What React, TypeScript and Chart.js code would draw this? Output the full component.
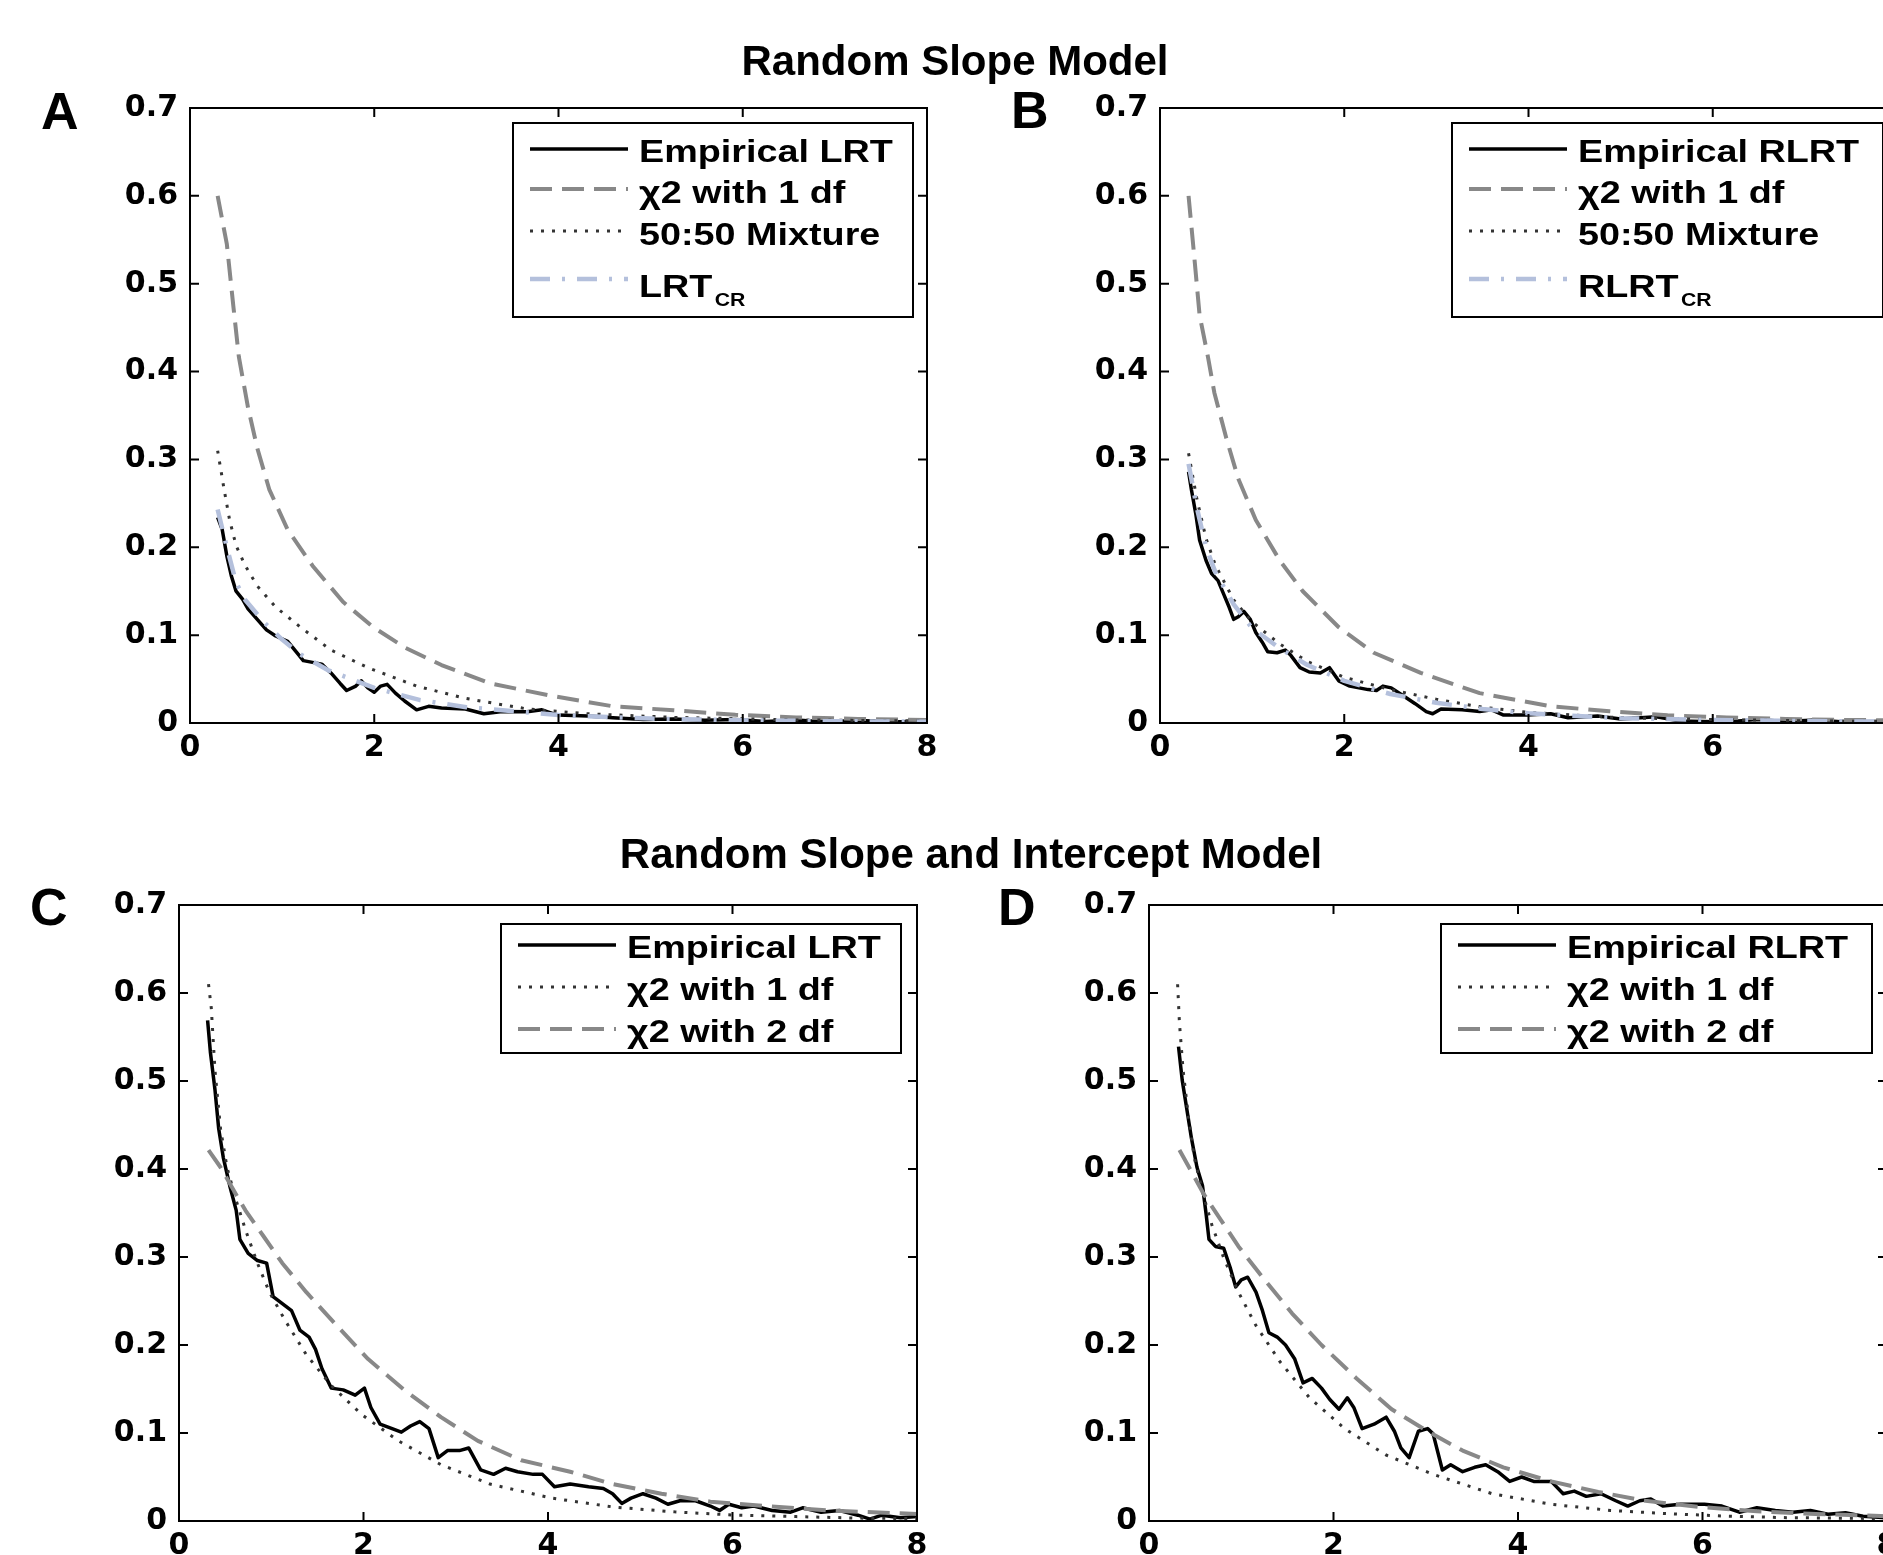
import React, { useEffect, useRef } from 'react';
import { Chart, registerables } from 'chart.js';

Chart.register(...registerables);

// ---------- axes ----------
const xTickValues = [0, 2, 4, 6, 8];
const xTickLabels = ['0', '2', '4', '6', '8'];
const yTickValues = [0, 0.1, 0.2, 0.3, 0.4, 0.5, 0.6, 0.7];
const yTickLabels = ['0', '0.1', '0.2', '0.3', '0.4', '0.5', '0.6', '0.7'];

// ---------- Panel A : Random slope, LRT ----------
const aEmpX = [0.30, 0.35, 0.40, 0.45, 0.50, 0.57, 0.63, 0.73, 0.83, 0.93, 1.06, 1.16, 1.23, 1.33, 1.43, 1.53, 1.63, 1.70, 1.80, 1.86, 1.93, 2.00, 2.07, 2.14, 2.23, 2.33, 2.46, 2.59, 2.73, 2.99, 3.19, 3.39, 3.66, 3.82, 3.99, 4.32, 4.59, 4.92, 5.25, 5.59, 5.92, 6.25, 6.58, 6.91, 7.25, 7.58, 8.00];
const aEmpY = [0.234, 0.220, 0.190, 0.167, 0.150, 0.141, 0.130, 0.118, 0.106, 0.099, 0.093, 0.080, 0.071, 0.069, 0.067, 0.057, 0.045, 0.037, 0.042, 0.048, 0.040, 0.035, 0.042, 0.044, 0.034, 0.025, 0.015, 0.019, 0.017, 0.016, 0.0105, 0.013, 0.0128, 0.015, 0.009, 0.008, 0.006, 0.004, 0.0046, 0.003, 0.004, 0.0017, 0.0035, 0.0012, 0.003, 0.0012, 0.002];
const aChi1X = [0.30, 0.40, 0.47, 0.53, 0.63, 0.73, 0.86, 1.06, 1.33, 1.66, 1.99, 2.33, 2.73, 3.26, 3.92, 4.59, 5.25, 5.92, 6.58, 7.25, 8.00];
const aChi1Y = [0.600, 0.545, 0.475, 0.417, 0.359, 0.313, 0.266, 0.220, 0.179, 0.138, 0.109, 0.086, 0.066, 0.045, 0.031, 0.019, 0.0145, 0.0093, 0.0064, 0.0046, 0.0035];
const aMixX = [0.30, 0.37, 0.43, 0.50, 0.60, 0.73, 0.93, 1.20, 1.53, 1.93, 2.46, 2.99, 3.66, 4.32, 5.25, 6.58, 8.00];
const aMixY = [0.310, 0.266, 0.231, 0.202, 0.179, 0.156, 0.132, 0.109, 0.083, 0.063, 0.042, 0.028, 0.016, 0.0105, 0.0064, 0.0035, 0.0023];
const aCrX = [0.30, 0.40, 0.50, 0.60, 0.80, 1.00, 1.20, 1.50, 2.00, 2.50, 3.00, 4.00, 5.00, 6.00, 7.00, 8.00];
const aCrY = [0.243, 0.200, 0.160, 0.140, 0.115, 0.095, 0.078, 0.060, 0.040, 0.026, 0.018, 0.009, 0.005, 0.003, 0.002, 0.0015];

// ---------- Panel B : Random slope, RLRT ----------
const bEmpX = [0.31, 0.34, 0.39, 0.43, 0.50, 0.56, 0.63, 0.69, 0.75, 0.80, 0.85, 0.91, 0.98, 1.04, 1.11, 1.17, 1.27, 1.36, 1.42, 1.52, 1.62, 1.74, 1.84, 1.94, 2.06, 2.26, 2.35, 2.42, 2.51, 2.64, 2.77, 2.89, 2.96, 3.05, 3.28, 3.47, 3.60, 3.73, 3.98, 4.24, 4.43, 4.75, 5.00, 5.39, 5.64, 6.15, 6.47, 6.79, 7.11, 7.43, 8.00];
const bEmpY = [0.286, 0.266, 0.237, 0.208, 0.185, 0.170, 0.162, 0.147, 0.132, 0.118, 0.121, 0.127, 0.118, 0.103, 0.092, 0.081, 0.080, 0.083, 0.077, 0.063, 0.058, 0.057, 0.063, 0.048, 0.042, 0.038, 0.037, 0.042, 0.040, 0.031, 0.022, 0.013, 0.0105, 0.016, 0.015, 0.013, 0.015, 0.009, 0.009, 0.0105, 0.006, 0.008, 0.0046, 0.007, 0.0023, 0.0012, 0.004, 0.0017, 0.0035, 0.0012, 0.002];
const bChi1X = [0.31, 0.37, 0.43, 0.52, 0.59, 0.72, 0.85, 1.04, 1.30, 1.55, 1.94, 2.32, 2.83, 3.47, 4.24, 4.88, 5.51, 6.15, 6.79, 7.43, 8.00];
const bChi1Y = [0.600, 0.533, 0.464, 0.417, 0.376, 0.324, 0.278, 0.231, 0.185, 0.150, 0.109, 0.080, 0.057, 0.034, 0.019, 0.0134, 0.0087, 0.0064, 0.0046, 0.0035, 0.003];
const bMixX = [0.31, 0.40, 0.50, 0.60, 0.80, 1.00, 1.30, 1.60, 2.00, 2.50, 3.00, 3.50, 4.00, 5.00, 6.00, 7.00, 8.00];
const bMixY = [0.307, 0.255, 0.210, 0.180, 0.140, 0.115, 0.090, 0.070, 0.052, 0.038, 0.027, 0.018, 0.012, 0.006, 0.004, 0.0025, 0.0017];
const bCrX = [0.31, 0.40, 0.50, 0.60, 0.80, 1.00, 1.30, 1.60, 2.00, 2.50, 3.00, 3.50, 4.00, 5.00, 6.00, 7.00, 8.00];
const bCrY = [0.295, 0.245, 0.200, 0.172, 0.135, 0.108, 0.085, 0.066, 0.048, 0.033, 0.023, 0.016, 0.011, 0.0055, 0.0035, 0.0022, 0.0015];

// ---------- Panel C : Random slope and intercept, LRT ----------
const cEmpX = [0.31, 0.34, 0.39, 0.43, 0.48, 0.55, 0.62, 0.66, 0.75, 0.85, 0.95, 1.02, 1.12, 1.22, 1.31, 1.41, 1.48, 1.55, 1.65, 1.78, 1.91, 2.01, 2.08, 2.18, 2.31, 2.41, 2.51, 2.61, 2.71, 2.81, 2.91, 3.04, 3.14, 3.27, 3.41, 3.54, 3.67, 3.84, 3.94, 4.07, 4.24, 4.44, 4.60, 4.70, 4.80, 4.90, 5.03, 5.17, 5.30, 5.43, 5.60, 5.76, 5.86, 5.96, 6.10, 6.23, 6.43, 6.63, 6.76, 6.96, 7.16, 7.36, 7.49, 7.62, 7.82, 8.00];
const cEmpY = [0.569, 0.533, 0.490, 0.446, 0.413, 0.381, 0.353, 0.320, 0.304, 0.296, 0.293, 0.255, 0.247, 0.239, 0.217, 0.209, 0.195, 0.173, 0.151, 0.149, 0.143, 0.151, 0.129, 0.110, 0.105, 0.101, 0.108, 0.113, 0.105, 0.072, 0.080, 0.080, 0.083, 0.058, 0.053, 0.060, 0.056, 0.053, 0.053, 0.039, 0.042, 0.039, 0.037, 0.031, 0.020, 0.026, 0.031, 0.026, 0.019, 0.023, 0.023, 0.017, 0.012, 0.019, 0.015, 0.017, 0.012, 0.010, 0.015, 0.010, 0.012, 0.0066, 0.0022, 0.0066, 0.0038, 0.005];
const cChi1X = [0.32, 0.35, 0.39, 0.45, 0.52, 0.62, 0.72, 0.85, 0.98, 1.15, 1.38, 1.65, 1.98, 2.38, 2.84, 3.37, 4.04, 4.70, 5.37, 6.03, 6.69, 7.36, 8.00];
const cChi1Y = [0.610, 0.583, 0.512, 0.446, 0.402, 0.364, 0.331, 0.293, 0.260, 0.228, 0.189, 0.154, 0.121, 0.091, 0.064, 0.042, 0.026, 0.016, 0.0104, 0.0066, 0.005, 0.0033, 0.0027];
const cChi2X = [0.32, 0.45, 0.58, 0.72, 0.92, 1.12, 1.38, 1.71, 2.05, 2.44, 2.84, 3.24, 3.71, 4.24, 4.70, 5.23, 5.76, 6.36, 7.03, 8.00];
const cChi2Y = [0.4215, 0.402, 0.378, 0.353, 0.323, 0.293, 0.260, 0.222, 0.184, 0.149, 0.118, 0.091, 0.069, 0.056, 0.042, 0.031, 0.022, 0.017, 0.012, 0.008];

// ---------- Panel D : Random slope and intercept, RLRT ----------
const dEmpX = [0.32, 0.36, 0.41, 0.46, 0.52, 0.58, 0.62, 0.65, 0.72, 0.81, 0.88, 0.94, 1.00, 1.07, 1.16, 1.23, 1.30, 1.39, 1.48, 1.58, 1.67, 1.77, 1.87, 1.96, 2.06, 2.15, 2.22, 2.31, 2.44, 2.57, 2.66, 2.73, 2.82, 2.92, 3.02, 3.08, 3.18, 3.27, 3.40, 3.53, 3.65, 3.78, 3.91, 4.04, 4.17, 4.36, 4.49, 4.61, 4.74, 4.90, 5.06, 5.19, 5.32, 5.44, 5.57, 5.76, 6.02, 6.21, 6.40, 6.59, 6.79, 6.98, 7.17, 7.36, 7.55, 7.74, 7.99];
const dEmpY = [0.539, 0.501, 0.468, 0.435, 0.402, 0.381, 0.348, 0.320, 0.312, 0.310, 0.288, 0.266, 0.274, 0.277, 0.260, 0.239, 0.214, 0.209, 0.200, 0.184, 0.157, 0.162, 0.151, 0.138, 0.127, 0.140, 0.129, 0.105, 0.110, 0.118, 0.102, 0.083, 0.072, 0.102, 0.105, 0.099, 0.058, 0.064, 0.056, 0.061, 0.064, 0.056, 0.045, 0.050, 0.045, 0.045, 0.031, 0.034, 0.028, 0.031, 0.023, 0.017, 0.023, 0.025, 0.017, 0.019, 0.019, 0.017, 0.010, 0.015, 0.012, 0.010, 0.012, 0.0077, 0.0093, 0.0055, 0.0038];
const dChi1X = [0.31, 0.33, 0.37, 0.43, 0.49, 0.59, 0.68, 0.81, 0.97, 1.16, 1.42, 1.74, 2.12, 2.57, 3.08, 3.72, 4.36, 5.00, 5.64, 6.27, 6.91, 8.00];
const dChi1Y = [0.610, 0.566, 0.512, 0.457, 0.413, 0.370, 0.337, 0.299, 0.260, 0.222, 0.181, 0.140, 0.105, 0.075, 0.053, 0.031, 0.019, 0.012, 0.0082, 0.0055, 0.0038, 0.0027];
const dChi2X = [0.33, 0.46, 0.59, 0.78, 0.97, 1.23, 1.55, 1.87, 2.25, 2.63, 3.02, 3.40, 3.84, 4.36, 4.87, 5.38, 5.96, 6.59, 7.23, 8.00];
const dChi2Y = [0.4215, 0.397, 0.372, 0.342, 0.312, 0.277, 0.236, 0.200, 0.162, 0.127, 0.102, 0.080, 0.061, 0.045, 0.033, 0.023, 0.016, 0.011, 0.008, 0.0055];

// ---------- text ----------
const titleTop = 'Random Slope Model';
const titleBottom = 'Random Slope and Intercept Model';

// ---------- styles ----------
type StyleKey = 'solid' | 'dashed' | 'dotted' | 'dashdot';
const STYLES: Record<StyleKey, { color: string; width: number; dash: number[]; cap: CanvasLineCap }> = {
  solid: { color: '#000000', width: 3.5, dash: [], cap: 'butt' },
  dashed: { color: '#888888', width: 4, dash: [22, 10], cap: 'butt' },
  dotted: { color: '#333333', width: 3, dash: [3, 8], cap: 'butt' },
  dashdot: { color: '#b4c0dc', width: 4.5, dash: [20, 12, 3, 12], cap: 'butt' },
};

type SeriesDef = { label: string; sub?: string; xs: number[]; ys: number[]; style: StyleKey };
type PanelDef = {
  key: string;
  plotLeft: number; plotTop: number; plotW: number; plotH: number;
  series: SeriesDef[];
  legend: { left: number; top: number; width: number; height: number; lineX0: number; lineX1: number; textX: number; lineY: number[]; baseY: number[] };
};

const Y_AXIS_W = 90;
const X_AXIS_H = 60;
const PAD_T = 30;
const PAD_R = 30;

const TICK_FONT = { family: "'DejaVu Sans', sans-serif", size: 30, weight: 'bold' as const, lineHeight: 1 };
const LEGEND_FONT = "bold 32px 'Liberation Sans', Arial, sans-serif";
const SUB_FONT = "bold 18px 'Liberation Sans', Arial, sans-serif";
const TEXT_STRETCH = 1.18;

const legend4 = (width: number) => ({
  left: 0, top: 15, width, height: 194,
  lineX0: 17, lineX1: 115, textX: 126,
  lineY: [41, 81, 123, 171], baseY: [54, 95, 137, 189],
});
const legend3 = (width: number) => ({
  left: 0, top: 19, width, height: 129,
  lineX0: 17, lineX1: 115, textX: 126,
  lineY: [40, 82, 124], baseY: [53, 95, 137],
});

const PANELS: PanelDef[] = [
  {
    key: 'A', plotLeft: 190, plotTop: 108, plotW: 737, plotH: 615,
    series: [
      { label: 'Empirical LRT', xs: aEmpX, ys: aEmpY, style: 'solid' },
      { label: 'χ2 with 1 df', xs: aChi1X, ys: aChi1Y, style: 'dashed' },
      { label: '50:50 Mixture', xs: aMixX, ys: aMixY, style: 'dotted' },
      { label: 'LRT', sub: 'CR', xs: aCrX, ys: aCrY, style: 'dashdot' },
    ],
    legend: { ...legend4(400), left: 323 },
  },
  {
    key: 'B', plotLeft: 1160, plotTop: 108, plotW: 737, plotH: 615,
    series: [
      { label: 'Empirical RLRT', xs: bEmpX, ys: bEmpY, style: 'solid' },
      { label: 'χ2 with 1 df', xs: bChi1X, ys: bChi1Y, style: 'dashed' },
      { label: '50:50 Mixture', xs: bMixX, ys: bMixY, style: 'dotted' },
      { label: 'RLRT', sub: 'CR', xs: bCrX, ys: bCrY, style: 'dashdot' },
    ],
    legend: { ...legend4(431), left: 292 },
  },
  {
    key: 'C', plotLeft: 179, plotTop: 905, plotW: 738, plotH: 616,
    series: [
      { label: 'Empirical LRT', xs: cEmpX, ys: cEmpY, style: 'solid' },
      { label: 'χ2 with 1 df', xs: cChi1X, ys: cChi1Y, style: 'dotted' },
      { label: 'χ2 with 2 df', xs: cChi2X, ys: cChi2Y, style: 'dashed' },
    ],
    legend: { ...legend3(400), left: 322 },
  },
  {
    key: 'D', plotLeft: 1149, plotTop: 905, plotW: 738, plotH: 616,
    series: [
      { label: 'Empirical RLRT', xs: dEmpX, ys: dEmpY, style: 'solid' },
      { label: 'χ2 with 1 df', xs: dChi1X, ys: dChi1Y, style: 'dotted' },
      { label: 'χ2 with 2 df', xs: dChi2X, ys: dChi2Y, style: 'dashed' },
    ],
    legend: { ...legend3(431), left: 292 },
  },
];

function makeFramePlugin(p: PanelDef) {
  return {
    id: 'frame' + p.key,
    afterDatasetsDraw(chart: any) {
      const { ctx, chartArea: a, scales } = chart;
      ctx.save();
      ctx.setLineDash([]);
      ctx.strokeStyle = '#000';
      ctx.lineWidth = 2;
      ctx.strokeRect(a.left, a.top, a.right - a.left, a.bottom - a.top);
      const tl = 9;
      ctx.beginPath();
      for (const v of xTickValues) {
        const px = scales.x.getPixelForValue(v);
        ctx.moveTo(px, a.bottom); ctx.lineTo(px, a.bottom - tl);
        ctx.moveTo(px, a.top); ctx.lineTo(px, a.top + tl);
      }
      for (const v of yTickValues) {
        const py = scales.y.getPixelForValue(v);
        ctx.moveTo(a.left, py); ctx.lineTo(a.left + tl, py);
        ctx.moveTo(a.right, py); ctx.lineTo(a.right - tl, py);
      }
      ctx.stroke();

      // legend box
      const L = p.legend;
      const bx = a.left + L.left;
      const by = a.top + L.top;
      ctx.fillStyle = '#fff';
      ctx.fillRect(bx, by, L.width, L.height);
      ctx.strokeStyle = '#000';
      ctx.lineWidth = 2;
      ctx.strokeRect(bx, by, L.width, L.height);
      p.series.forEach((s, i) => {
        const st = STYLES[s.style];
        const ly = a.top + L.lineY[i];
        ctx.beginPath();
        ctx.setLineDash(st.dash);
        ctx.lineCap = st.cap;
        ctx.strokeStyle = st.color;
        ctx.lineWidth = st.width;
        ctx.moveTo(bx + L.lineX0, ly);
        ctx.lineTo(bx + L.lineX1, ly);
        ctx.stroke();
        ctx.setLineDash([]);
        ctx.fillStyle = '#000';
        ctx.textAlign = 'left';
        ctx.textBaseline = 'alphabetic';
        const tx = bx + L.textX;
        const ty = a.top + L.baseY[i];
        ctx.save();
        ctx.translate(tx, ty);
        ctx.scale(TEXT_STRETCH, 1);
        ctx.font = LEGEND_FONT;
        ctx.fillText(s.label, 0, 0);
        const w = ctx.measureText(s.label).width;
        if (s.sub) {
          ctx.font = SUB_FONT;
          ctx.fillText(s.sub, w + 2, 9);
        }
        ctx.restore();
      });
      ctx.restore();
    },
  };
}

function Panel({ p }: { p: PanelDef }) {
  const ref = useRef<HTMLCanvasElement>(null);
  const width = p.plotW + Y_AXIS_W + PAD_R;
  const height = p.plotH + PAD_T + X_AXIS_H;
  useEffect(() => {
    const canvas = ref.current;
    if (!canvas) return;
    const n = p.series.length;
    const chart = new Chart(canvas, {
      type: 'line',
      data: {
        datasets: p.series.map((s, i) => {
          const st = STYLES[s.style];
          return {
            label: s.label,
            data: s.xs.map((x, j) => ({ x, y: s.ys[j] })),
            borderColor: st.color,
            borderWidth: st.width,
            borderDash: st.dash,
            borderCapStyle: st.cap,
            borderJoinStyle: 'round',
            pointRadius: 0,
            fill: false,
            tension: 0,
            order: n - i,
          };
        }),
      },
      options: {
        responsive: false,
        animation: false,
        devicePixelRatio: 1,
        events: [],
        layout: { padding: { top: PAD_T, right: PAD_R, left: 0, bottom: 0 } },
        plugins: { legend: { display: false }, tooltip: { enabled: false } },
        scales: {
          x: {
            type: 'linear', min: 0, max: 8,
            afterBuildTicks: (s: any) => { s.ticks = xTickValues.map((v) => ({ value: v })); },
            afterFit: (s: any) => { s.height = X_AXIS_H; },
            grid: { display: false, drawTicks: false },
            border: { display: false },
            ticks: {
              padding: 10, color: '#000', font: TICK_FONT, maxRotation: 0, autoSkip: false,
              callback: (_v: any, i: number) => xTickLabels[i],
            },
          },
          y: {
            type: 'linear', min: 0, max: 0.7,
            afterBuildTicks: (s: any) => { s.ticks = yTickValues.map((v) => ({ value: v })); },
            afterFit: (s: any) => { s.width = Y_AXIS_W; },
            grid: { display: false, drawTicks: false },
            border: { display: false },
            ticks: {
              padding: 12, color: '#000', font: TICK_FONT, autoSkip: false,
              callback: (_v: any, i: number) => yTickLabels[i],
            },
          },
        },
      } as any,
      plugins: [makeFramePlugin(p)],
    });
    return () => chart.destroy();
  }, [p]);
  return (
    <canvas
      ref={ref}
      width={width}
      height={height}
      style={{ position: 'absolute', left: p.plotLeft - Y_AXIS_W, top: p.plotTop - PAD_T, width, height }}
    />
  );
}

const textBase: React.CSSProperties = {
  position: 'absolute',
  fontFamily: "'Liberation Sans', Arial, sans-serif",
  fontWeight: 'bold',
  whiteSpace: 'nowrap',
  color: '#000',
  margin: 0,
};

export default function App() {
  return (
    <div style={{ position: 'fixed', left: 0, top: 0, width: 1883, height: 1555, overflow: 'hidden', background: '#fff' }}>
      {PANELS.map((p) => <Panel key={p.key} p={p} />)}
      <div style={{ ...textBase, left: 955, top: 40, fontSize: 42, lineHeight: '42px', transform: 'translateX(-50%)' }}>{titleTop}</div>
      <div style={{ ...textBase, left: 971, top: 833, fontSize: 42, lineHeight: '42px', transform: 'translateX(-50%)' }}>{titleBottom}</div>
      <div style={{ ...textBase, left: 41, top: 85, fontSize: 52, lineHeight: '52px' }}>A</div>
      <div style={{ ...textBase, left: 1011, top: 84, fontSize: 52, lineHeight: '52px' }}>B</div>
      <div style={{ ...textBase, left: 30, top: 881, fontSize: 52, lineHeight: '52px' }}>C</div>
      <div style={{ ...textBase, left: 998, top: 881, fontSize: 52, lineHeight: '52px' }}>D</div>
    </div>
  );
}
